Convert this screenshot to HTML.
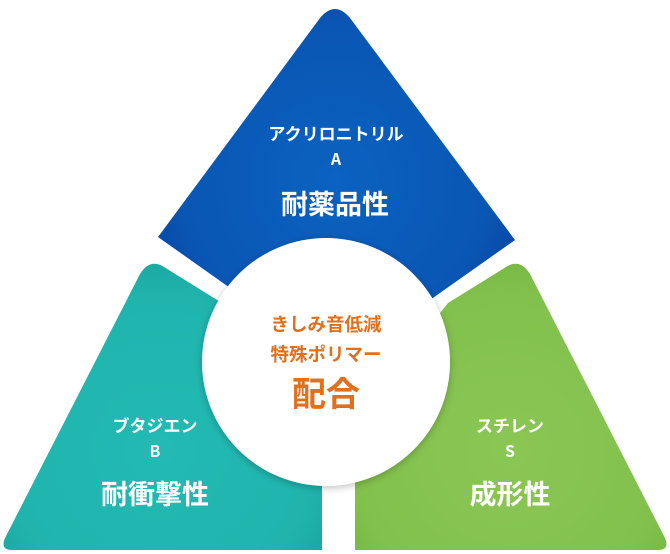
<!DOCTYPE html>
<html><head><meta charset="utf-8"><style>
html,body{margin:0;padding:0;background:#fff;}
svg{display:block;}
text{font-family:"Noto Sans CJK JP","Liberation Sans",sans-serif;text-anchor:middle;font-weight:bold;}
</style></head><body>
<svg width="670" height="554" viewBox="0 0 670 554" xmlns="http://www.w3.org/2000/svg">
<defs>
<radialGradient id="gb" cx="335" cy="180" r="220" gradientUnits="userSpaceOnUse"><stop offset="0" stop-color="#0b62c0"/><stop offset="0.7" stop-color="#0a56b4"/><stop offset="1" stop-color="#073f9c"/></radialGradient>
<radialGradient id="gt" cx="160" cy="450" r="220" gradientUnits="userSpaceOnUse"><stop offset="0" stop-color="#22bab3"/><stop offset="0.7" stop-color="#20b4ad"/><stop offset="1" stop-color="#179f98"/></radialGradient>
<radialGradient id="gg" cx="510" cy="450" r="220" gradientUnits="userSpaceOnUse"><stop offset="0" stop-color="#8bc655"/><stop offset="0.7" stop-color="#82c14d"/><stop offset="1" stop-color="#6cb23a"/></radialGradient>
<filter id="sh" x="-20%" y="-20%" width="140%" height="140%"><feGaussianBlur in="SourceAlpha" stdDeviation="4"/><feOffset dx="0" dy="2"/><feComponentTransfer><feFuncA type="linear" slope="0.25"/></feComponentTransfer><feMerge><feMergeNode/><feMergeNode in="SourceGraphic"/></feMerge></filter>
</defs>
<path d="M158,237 L320,18 Q335,0 350,18 L515,240 L430,300 L240,295 Z" fill="url(#gb)"/>
<path d="M322,550 L12,550 Q0,550 5,538 L140,274 Q150,258 164,267 L222,303 L322,420 Z" fill="url(#gt)"/>
<path d="M355,550 L658,550 Q670,550 665,538 L530,274 Q520,258 506,267 L448,303 L355,420 Z" fill="url(#gg)"/>
<circle cx="326" cy="362" r="124" fill="#fff" filter="url(#sh)"/>
<g fill="#fff">
<text x="336" y="140" font-size="17">アクリロニトリル</text>
<text x="336" y="165" font-size="16">A</text>
<text x="335" y="214" font-size="27">耐薬品性</text>
<text x="155" y="432" font-size="17">ブタジエン</text>
<text x="155" y="457" font-size="16">B</text>
<text x="155" y="504" font-size="27">耐衝撃性</text>
<text x="510" y="432" font-size="17">スチレン</text>
<text x="510" y="457" font-size="16">S</text>
<text x="510" y="504" font-size="27">成形性</text>
</g>
<g fill="#e0701e">
<text x="326" y="331" font-size="18.5">きしみ音低減</text>
<text x="326" y="361" font-size="18.5">特殊ポリマー</text>
<text x="326" y="406" font-size="34">配合</text>
</g>
</svg>
</body></html>
